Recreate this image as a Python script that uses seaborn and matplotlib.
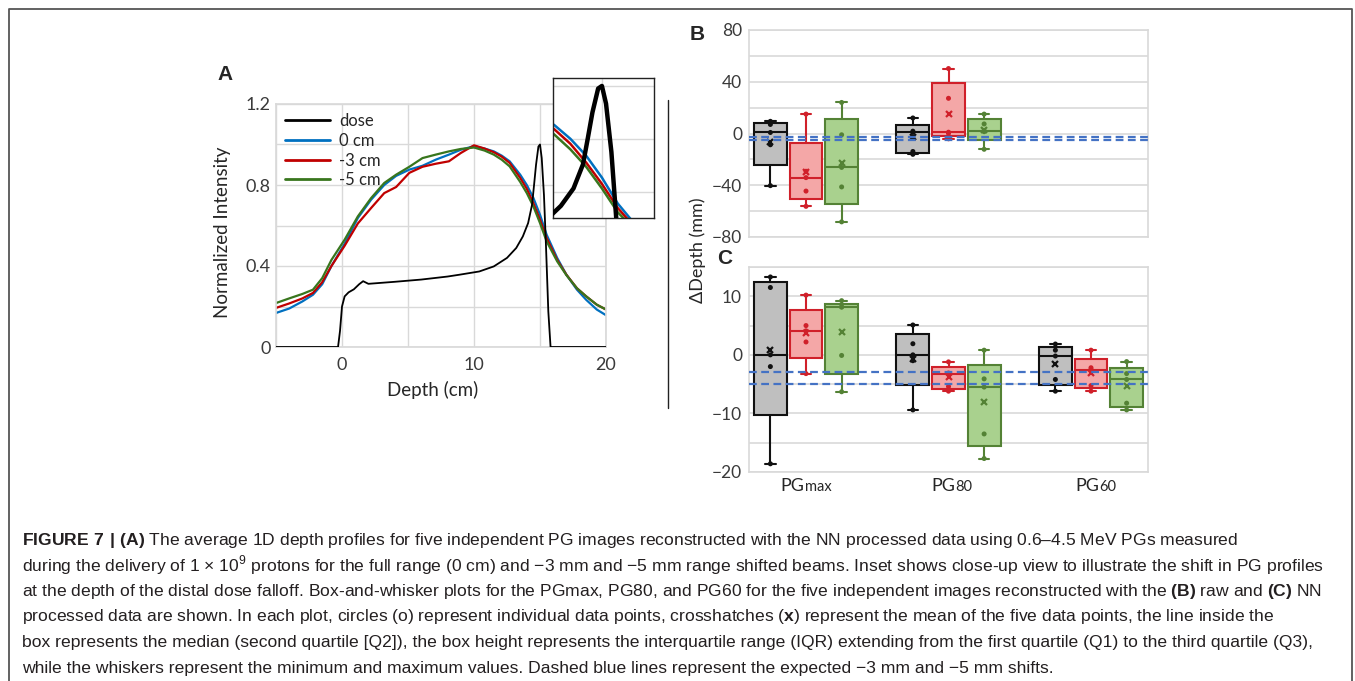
import numpy as np
import pandas as pd
import matplotlib
matplotlib.use("Agg")
import matplotlib.pyplot as plt
import matplotlib.ticker as mticker
import matplotlib.transforms as mtransforms
from matplotlib.lines import Line2D
import seaborn as sns

# panel A - average depth profiles
pg_depth = [-5, -4, -3, -2.2, -1.5, -0.8, 0.2, 1.2, 2.2, 3.2, 4.1, 5.1, 6.1, 7.1, 8.1, 9.0,
            10.0, 10.8, 11.5, 12.1, 12.7, 13.5, 14.0, 14.5, 15.0, 15.5, 16.3, 17.0, 17.8, 18.5, 19.3, 20.0]
pg_0cm = [0.168, 0.19, 0.225, 0.258, 0.31, 0.40, 0.51, 0.637, 0.727, 0.80, 0.845, 0.876, 0.895, 0.925, 0.95, 0.974,
          0.992, 0.98, 0.966, 0.945, 0.917, 0.851, 0.80, 0.736, 0.653, 0.555, 0.44, 0.357, 0.283, 0.233, 0.185, 0.157]
pg_3cm = [0.193, 0.215, 0.24, 0.267, 0.32, 0.40, 0.50, 0.61, 0.686, 0.76, 0.79, 0.86, 0.89, 0.905, 0.917, 0.958,
          0.996, 0.98, 0.962, 0.94, 0.909, 0.835, 0.781, 0.71, 0.629, 0.538, 0.43, 0.357, 0.29, 0.25, 0.209, 0.185]
pg_5cm = [0.217, 0.24, 0.262, 0.283, 0.34, 0.43, 0.53, 0.645, 0.735, 0.81, 0.851, 0.89, 0.933, 0.95, 0.966, 0.978,
          0.985, 0.97, 0.95, 0.925, 0.892, 0.815, 0.76, 0.694, 0.612, 0.522, 0.423, 0.355, 0.29, 0.25, 0.209, 0.185]
dose_depth = [-5, -0.3, -0.15, 0.0, 0.2, 0.5, 0.9, 1.3, 1.6, 2.0, 2.6, 4, 6, 8, 8.9, 10.4, 11.5, 12.5, 13.2, 13.7,
              14.1, 14.4, 14.55, 14.7, 14.88, 15.0, 15.13, 15.3, 15.45, 15.63, 15.8, 20]
dose = [0, 0, 0.08, 0.2, 0.25, 0.27, 0.285, 0.31, 0.325, 0.312, 0.315, 0.322, 0.333, 0.348, 0.357, 0.373, 0.398,
        0.44, 0.489, 0.546, 0.612, 0.703, 0.80, 0.90, 0.99, 1.0, 0.933, 0.75, 0.505, 0.176, 0, 0]
profile_labels = ['0 cm', '-3 cm', '-5 cm']

# panels B / C - five values per box (mm)
metrics = ['PGmax', 'PG80', 'PG60']
beams = ['full', 'shift3', 'shift5']
# B: raw data (no PG60 boxes)
raw_pgmax_full = [-40.3, -8.7, 0.8, 7.0, 9.4]
raw_pgmax_shift3 = [-56.3, -44.5, -34.1, -29.2, 15.0]
raw_pgmax_shift5 = [-68.3, -41.3, -26.2, -1.0, 24.0]
raw_pg80_full = [-16.1, -13.9, 0.8, 1.8, 12.0]
raw_pg80_shift3 = [-4.1, 0.1, 1.0, 27.2, 50.2]
raw_pg80_shift5 = [-12.2, 1.4, 2.3, 7.4, 15.0]
# C: NN processed data
nn_pgmax_full = [-18.6, -2.0, 0.0, 11.5, 13.3]
nn_pgmax_shift3 = [-3.2, 2.2, 4.1, 5.0, 10.2]
nn_pgmax_shift5 = [-6.3, -0.1, 8.15, 8.2, 9.25]
nn_pg80_full = [-9.4, -1.0, 0.0, 1.9, 5.1]
nn_pg80_shift3 = [-6.2, -5.4, -3.3, -3.1, -1.2]
nn_pg80_shift5 = [-17.7, -13.5, -5.5, -4.1, 0.8]
nn_pg60_full = [-6.2, -4.2, -0.2, 0.8, 1.85]
nn_pg60_shift3 = [-6.2, -5.25, -2.5, -2.2, 0.8]
nn_pg60_shift5 = [-9.4, -8.25, -4.2, -3.2, -1.15]
expected_shift = [-3, -5]

raw_boxes = {('PGmax', 'full'): raw_pgmax_full, ('PGmax', 'shift3'): raw_pgmax_shift3,
             ('PGmax', 'shift5'): raw_pgmax_shift5, ('PG80', 'full'): raw_pg80_full,
             ('PG80', 'shift3'): raw_pg80_shift3, ('PG80', 'shift5'): raw_pg80_shift5}
nn_boxes = {('PGmax', 'full'): nn_pgmax_full, ('PGmax', 'shift3'): nn_pgmax_shift3,
            ('PGmax', 'shift5'): nn_pgmax_shift5, ('PG80', 'full'): nn_pg80_full,
            ('PG80', 'shift3'): nn_pg80_shift3, ('PG80', 'shift5'): nn_pg80_shift5,
            ('PG60', 'full'): nn_pg60_full, ('PG60', 'shift3'): nn_pg60_shift3,
            ('PG60', 'shift5'): nn_pg60_shift5}

sns.set_theme(style='whitegrid')
plt.rcParams['font.family'] = ['Lato', 'DejaVu Sans']
plt.rcParams['mathtext.fontset'] = 'custom'
plt.rcParams['mathtext.rm'] = 'Liberation Sans'
plt.rcParams['mathtext.bf'] = 'Liberation Sans:bold'
plt.rcParams['axes.edgecolor'] = '#d9d9d9'
plt.rcParams['grid.color'] = '#d9d9d9'

W, H = 1355, 681
fig = plt.figure(figsize=(W / 100, H / 100), dpi=100)


def px_rect(left, top, right, bottom):
    return [left / W, 1 - bottom / H, (right - left) / W, (bottom - top) / H]


line_cols = ['#0070C0', '#C00000', '#38761D']
tick_col = '#3a3a3a'

# ---------- panel A
pg_df = pd.DataFrame({'depth': pg_depth * 3,
                      'intensity': pg_0cm + pg_3cm + pg_5cm,
                      'profile': np.repeat(profile_labels, len(pg_depth))})

axA = fig.add_axes(px_rect(276, 104, 606, 347))
sns.lineplot(data=pg_df, x='depth', y='intensity', hue='profile', palette=line_cols, estimator=None,
             lw=1.6, legend=False, ax=axA)
sns.lineplot(x=dose_depth, y=dose, color='black', lw=1.3, estimator=None, ax=axA, zorder=3)
axA.set_xlim(-5, 20)
axA.set_ylim(0, 1.2)
axA.set_xticks([0, 10, 20])
axA.xaxis.set_minor_locator(mticker.FixedLocator([-5, 5, 15]))
axA.set_yticks([0, 0.4, 0.8, 1.2])
axA.set_yticklabels(['0', '0.4', '0.8', '1.2'])
axA.yaxis.set_minor_locator(mticker.MultipleLocator(0.2))
axA.grid(which='both', color='#d9d9d9', lw=1)
axA.tick_params(which='both', length=0, labelsize=13, colors=tick_col)
axA.tick_params(axis='x', pad=7)
axA.tick_params(axis='y', pad=4)
axA.set_xlabel('')
axA.set_ylabel('')
for s in axA.spines.values():
    s.set_color('#d9d9d9')
axA.text(0.476, -0.175, 'Depth (cm)', transform=axA.transAxes, ha='center', va='center', fontsize=13.5,
         color='#262626')
axA.text(-0.162, 0.47, 'Normalized Intensity', transform=axA.transAxes, ha='center', va='center',
         rotation=90, fontsize=13.5, color='#262626')
handles = [Line2D([], [], color='black', lw=2)] + [Line2D([], [], color=c, lw=2) for c in line_cols]
axA.legend(handles, ['dose'] + profile_labels, loc='upper left', frameon=False, fontsize=12,
           handlelength=2.7, handletextpad=0.55, labelspacing=0.22, borderaxespad=0.15)

# inset close-up of the distal falloff
axI = fig.add_axes(px_rect(553, 78, 654, 218))
sns.lineplot(data=pg_df, x='depth', y='intensity', hue='profile', palette=line_cols, estimator=None,
             lw=1.8, legend=False, ax=axI)
sns.lineplot(x=dose_depth, y=dose, color='black', lw=3.2, estimator=None, ax=axI, zorder=3)
axI.set_xlim(13.45, 16.65)
axI.set_ylim(0.5, 1.03)
axI.set_xticks([15])
axI.set_yticks([0.6, 0.8, 1.0])
axI.grid(color='#d9d9d9', lw=1)
axI.tick_params(length=0, labelbottom=False, labelleft=False)
axI.set_xlabel('')
axI.set_ylabel('')
for s in axI.spines.values():
    s.set_color('#222222')
    s.set_linewidth(1)

# ---------- panels B and C
face_cols = ['#BFBFBF', '#F4A7A7', '#A9D18E']
edge_cols = ['#111111', '#D0202A', '#548235']
offsets = [-0.25, 0, 0.25]


def draw_boxes(ax, boxes, ylim, major, minor):
    pts = []
    for j, beam in enumerate(beams):
        stats, pos = [], []
        for i, m in enumerate(metrics):
            vals = boxes.get((m, beam))
            if vals is None:
                continue
            # Excel-style (exclusive) quartiles
            q1, med, q3 = np.percentile(vals, [25, 50, 75], method='weibull')
            stats.append(dict(med=med, q1=q1, q3=q3, whislo=min(vals), whishi=max(vals),
                              mean=np.mean(vals), fliers=[]))
            pos.append(i + offsets[j])
            for v in vals:
                pts.append((i + offsets[j], v, beam))
        ax.bxp(stats, positions=pos, widths=0.23, capwidths=0.075, patch_artist=True,
               showmeans=True, showfliers=False, manage_ticks=False,
               boxprops=dict(facecolor=face_cols[j], edgecolor=edge_cols[j], lw=1.5),
               medianprops=dict(color=edge_cols[j], lw=1.5),
               whiskerprops=dict(color=edge_cols[j], lw=1.5),
               capprops=dict(color=edge_cols[j], lw=1.5),
               meanprops=dict(marker='x', markeredgecolor=edge_cols[j], markersize=5,
                              markeredgewidth=1.6))
    pts = pd.DataFrame(pts, columns=['pos', 'value', 'beam'])
    sns.scatterplot(data=pts, x='pos', y='value', hue='beam', hue_order=beams, palette=edge_cols,
                    s=13, edgecolor='none', legend=False, ax=ax, zorder=4)
    for y in expected_shift:
        ax.axhline(y, color='#4472C4', lw=1.6, ls=(0, (3.5, 2)), zorder=5, clip_on=False)
    ax.set_xlim(-0.4, 2.4)
    ax.set_ylim(*ylim)
    ax.yaxis.set_major_locator(mticker.MultipleLocator(major))
    ax.yaxis.set_minor_locator(mticker.MultipleLocator(minor))
    ax.grid(which='both', axis='y', color='#d9d9d9', lw=1.2)
    ax.grid(axis='x', visible=False)
    ax.set_xticks([0, 1, 2])
    ax.set_xticklabels([])
    ax.tick_params(which='both', length=0, labelsize=12.5, colors=tick_col)
    ax.tick_params(axis='y', pad=5)
    ax.set_xlabel('')
    ax.set_ylabel('')
    for s in ax.spines.values():
        s.set_color('#d9d9d9')
        s.set_linewidth(1.2)


axB = fig.add_axes(px_rect(749, 30, 1148, 237))
draw_boxes(axB, raw_boxes, (-80, 80), 40, 20)
axC = fig.add_axes(px_rect(749, 267, 1148, 472))
draw_boxes(axC, nn_boxes, (-20, 15), 10, 5)

# category labels with the small suffix (PGmax, PG80, PG60)
trans = mtransforms.blended_transform_factory(axC.transData, axC.transAxes)
label_shift = {'PGmax': -0.01, 'PG80': 0.045, 'PG60': 0.055}
for i, m in enumerate(metrics):
    t = axC.text(i + label_shift[m], -0.03, 'PG', transform=trans, ha='right', va='top', fontsize=13,
                 color='#262626')
    axC.annotate(m[2:], xy=(1, 0), xycoords=t, ha='left', va='bottom', fontsize=10.5, color='#262626')

fig.text(698 / W, 1 - 250 / H, 'ΔDepth (mm)', rotation=90, ha='center', va='center', fontsize=13,
         color='#262626')

# panel letters
for letter, x, y in [('A', 225, 75), ('B', 697, 35), ('C', 725, 258)]:
    fig.text(x / W, 1 - y / H, letter, ha='center', va='center', fontsize=15, fontweight='bold',
             family='Liberation Sans')

# frame and separator
fig.add_artist(Line2D([9 / W, 9 / W, 1352 / W, 1352 / W], [0, 1 - 9 / H, 1 - 9 / H, 0],
                      transform=fig.transFigure, color='#555555', lw=1.3))
fig.add_artist(Line2D([668 / W, 668 / W], [1 - 100 / H, 1 - 408 / H], transform=fig.transFigure,
                      color='#222222', lw=1))

# caption
caption = [
    r"$\mathbf{FIGURE\ 7\ |\ (A)}$ The average 1D depth profiles for five independent PG images reconstructed "
    r"with the NN processed data using 0.6–4.5 MeV PGs measured",
    r"during the delivery of 1 × 10$^{9}$ protons for the full range (0 cm) and −3 mm and −5 mm range shifted "
    r"beams. Inset shows close-up view to illustrate the shift in PG profiles",
    r"at the depth of the distal dose falloff. Box-and-whisker plots for the PGmax, PG80, and PG60 for the five "
    r"independent images reconstructed with the $\mathbf{(B)}$ raw and $\mathbf{(C)}$ NN",
    r"processed data are shown. In each plot, circles (o) represent individual data points, crosshatches "
    r"($\mathbf{x}$) represent the mean of the five data points, the line inside the",
    "box represents the median (second quartile [Q2]), the box height represents the interquartile range (IQR) "
    "extending from the first quartile (Q1) to the third quartile (Q3),",
    "while the whiskers represent the minimum and maximum values. Dashed blue lines represent the expected "
    "−3 mm and −5 mm shifts.",
]
for k, line in enumerate(caption):
    fig.text(22 / W, 1 - (540 + 25.6 * k) / H, line, ha='left', va='center', fontsize=12.6,
             family='Liberation Sans', color='#231f20')

fig.savefig('out.png', dpi=100)
